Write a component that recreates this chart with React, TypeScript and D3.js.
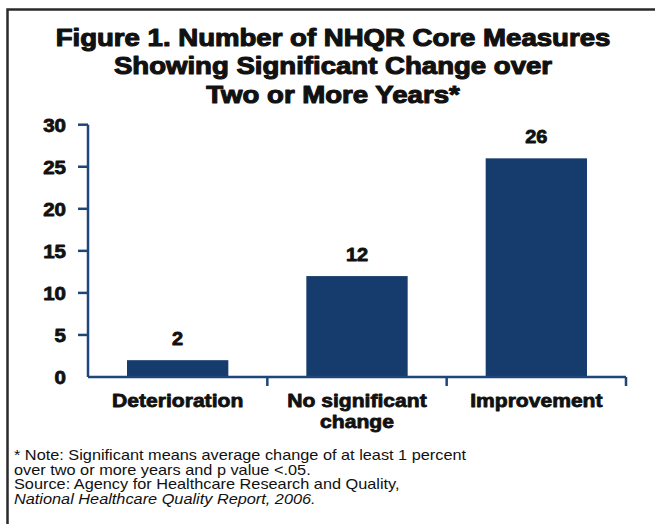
import React from "react";
import * as d3 from "d3";

// Measure counts by direction of change
const categories = ["Deterioration", "No significant change", "Improvement"];
const categoryLines = [["Deterioration"], ["No significant", "change"], ["Improvement"]];
const values = [2, 12, 26];
const yTicks = [0, 5, 10, 15, 20, 25, 30];

const titleLines = [
  "Figure 1. Number of NHQR Core Measures",
  "Showing Significant Change over",
  "Two or More Years*",
];
const noteLines = [
  "* Note: Significant means average change of at least 1 percent",
  "over two or more years and p value <.05.",
  "Source: Agency for Healthcare Research and Quality,",
];
const noteItalic = "National Healthcare Quality Report, 2006.";

const W = 655;
const H = 524;
const SX = 1.14; // horizontal stretch applied to all text
const FONT = "'Liberation Sans', Arial, Helvetica, sans-serif";
const BAR = "#163c6d";
const AXIS = "#1f4678";

const plot = { left: 88, right: 626, top: 124.7, bottom: 377 };

function T({
  x,
  y,
  size,
  anchor = "middle",
  bold = true,
  italic = false,
  heavy = 0,
  children,
}: {
  x: number;
  y: number;
  size: number;
  anchor?: "start" | "middle" | "end";
  bold?: boolean;
  italic?: boolean;
  heavy?: number;
  children: React.ReactNode;
}) {
  return (
    <g transform={`translate(${x},${y}) scale(${SX},1)`}>
      <text
        x={0}
        y={0}
        fontFamily={FONT}
        fontSize={size}
        fontWeight={bold ? 700 : 400}
        fontStyle={italic ? "italic" : "normal"}
        textAnchor={anchor}
        fill="#111"
        stroke={heavy ? "#111" : "none"}
        strokeWidth={heavy}
        strokeLinejoin="round"
      >
        {children}
      </text>
    </g>
  );
}

export default function App() {
  const x = d3
    .scaleBand<string>()
    .domain(categories)
    .range([plot.left, plot.right])
    .paddingInner(0.435)
    .paddingOuter(0.2175);
  const y = d3.scaleLinear().domain([0, 30]).range([plot.bottom, plot.top]);
  const step = x.step();
  const boundaries = categories.map((_, i) => plot.left + step * (i + 1));

  return (
    <svg
      width={W}
      height={H}
      style={{ position: "absolute", left: 0, top: 0, background: "#fff" }}
    >
      <rect x={0} y={0} width={W} height={H} fill="#fff" />
      {/* frame */}
      <path d={`M7.5,${H} V9.5 H${W}`} fill="none" stroke="#2a2a2a" strokeWidth={2.5} />

      {/* title */}
      {titleLines.map((t, i) => (
        <T key={i} x={333} y={45.7 + i * 28.7} size={24.2} heavy={1.1}>
          {t}
        </T>
      ))}

      {/* bars */}
      {categories.map((c, i) => (
        <rect
          key={c}
          x={x(c)}
          y={y(values[i])}
          width={x.bandwidth()}
          height={y(0) - y(values[i])}
          fill={BAR}
        />
      ))}

      {/* value labels */}
      {categories.map((c, i) => (
        <T key={c} x={(x(c) as number) + x.bandwidth() / 2} y={y(values[i]) - 15.5} size={17.5} heavy={0.8}>
          {values[i]}
        </T>
      ))}

      {/* axes */}
      <g stroke={AXIS} strokeWidth={2.5} fill="none">
        <line x1={plot.left} x2={plot.left} y1={y(30)} y2={y(0)} />
        {yTicks
          .filter((t) => t !== 0)
          .map((t) => (
            <line key={t} x1={plot.left - 10} x2={plot.left} y1={y(t)} y2={y(t)} />
          ))}
        <line x1={plot.left} x2={plot.right} y1={y(0)} y2={y(0)} />
        {boundaries.map((b, i) => (
          <line key={i} x1={b} x2={b} y1={y(0)} y2={y(0) + 9} />
        ))}
      </g>
      {yTicks.map((t) => (
        <T key={t} x={66} y={y(t) + 7} size={18} anchor="end" heavy={0.8}>
          {t}
        </T>
      ))}

      {/* category labels */}
      {categories.map((c, i) =>
        categoryLines[i].map((line, j) => (
          <T
            key={c + j}
            x={(x(c) as number) + x.bandwidth() / 2}
            y={406.5 + j * 21}
            size={18.5}
            heavy={0.8}
          >
            {line}
          </T>
        ))
      )}

      {/* notes */}
      {noteLines.map((t, i) => (
        <T key={i} x={14} y={460 + i * 14.5} size={14.3} anchor="start" bold={false}>
          {t}
        </T>
      ))}
      <T x={14} y={460 + 3 * 14.5} size={14.3} anchor="start" bold={false} italic>
        {noteItalic}
      </T>
    </svg>
  );
}
